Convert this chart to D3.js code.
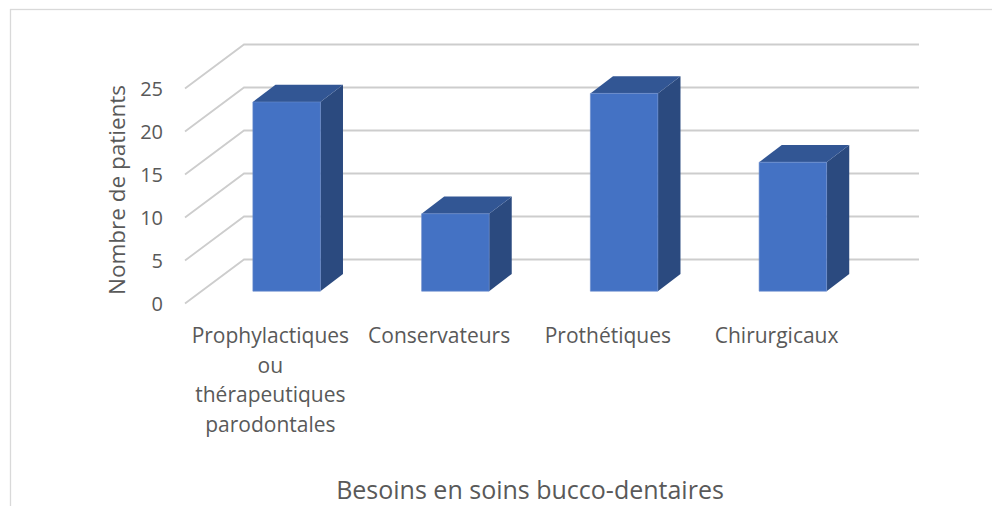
<!DOCTYPE html>
<html>
<head>
<meta charset="utf-8">
<script src="https://cdn.jsdelivr.net/npm/d3@7"></script>
<style>
  body { margin: 0; background: #fff; }
  text { font-family: 'Open Sans', sans-serif; fill: #595959; }
</style>
</head>
<body>
<div id="chart"></div>
<script>
// ----------------------------DATA-------------------------------//
const categories = [
  ['Prophylactiques', 'ou', 'thérapeutiques', 'parodontales'],
  ['Conservateurs'],
  ['Prothétiques'],
  ['Chirurgicaux'],
];
const values = [22, 9, 23, 15];
const yTicks = [0, 5, 10, 15, 20, 25];
const yTitle = 'Nombre de patients';
const xTitle = 'Besoins en soins bucco-dentaires';

const width = 992;
const height = 506;

// plot box (front plane) and depth vector of the side wall
const x0 = 186;
const plotW = 675;
const depth = { dx: 58, dy: -44 };
const zFront = 0.28;
const zBack = 0.67;

const svg = d3.select('#chart').append('svg')
  .attr('width', width)
  .attr('height', height);

// chart border (runs off right and bottom)
svg.append('rect')
  .attr('x', 10.5)
  .attr('y', 9.5)
  .attr('width', 1100)
  .attr('height', 700)
  .attr('fill', 'none')
  .attr('stroke', '#d9d9d9')
  .attr('stroke-width', 1.3);

// ----------------------------SCALES-----------------------------//
const yScale = d3.scaleLinear().domain([0, 25]).range([303.5, 88.5]);
const xBand = d3.scaleBand()
  .domain(d3.range(values.length))
  .range([x0, x0 + plotW])
  .paddingInner(0.6)
  .paddingOuter(0.3);
const xCat = d3.scaleBand()
  .domain(d3.range(values.length))
  .range([x0, x0 + plotW]);

const proj = (x, y, z) => [x + depth.dx * z, y + depth.dy * z];

// ----------------------------GRID-------------------------------//
const grid = svg.append('g')
  .attr('fill', 'none')
  .attr('stroke', '#cdcdcd')
  .attr('stroke-width', 1.8);

yTicks.forEach(t => {
  const yf = yScale(t);
  const back = proj(x0, yf, 1);
  const backEnd = proj(x0 + plotW, yf, 1);
  grid.append('polyline')
    .attr('points', [[x0 - 1, yf], back, backEnd].map(p => p.join(',')).join(' '));
});

// ----------------------------AXES-------------------------------//
svg.append('g')
  .selectAll('text')
  .data(yTicks)
  .enter()
  .append('text')
  .attr('x', 163)
  .attr('y', d => yScale(d))
  .attr('dy', '0.35em')
  .attr('text-anchor', 'end')
  .style('font-size', '20px')
  .text(d => d);

svg.append('text')
  .attr('transform', 'translate(117,190) rotate(-90)')
  .attr('text-anchor', 'middle')
  .attr('dy', '0.35em')
  .style('font-size', '22.5px')
  .text(yTitle);

const catLabels = svg.append('g')
  .selectAll('text')
  .data(categories)
  .enter()
  .append('text')
  .attr('text-anchor', 'middle')
  .style('font-size', '21px')
  .attr('x', (d, i) => xCat(i) + xCat.bandwidth() / 2)
  .attr('y', 336);

catLabels.selectAll('tspan')
  .data(d => d)
  .enter()
  .append('tspan')
  .attr('x', function () { return d3.select(this.parentNode).attr('x'); })
  .attr('dy', (d, i) => (i === 0 ? '0.35em' : '1.4em'))
  .text(d => d);

// baseline kept just inside the bottom edge
svg.append('text')
  .attr('x', 530)
  .attr('y', 490)
  .attr('dy', '0.35em')
  .attr('text-anchor', 'middle')
  .style('font-size', '25px')
  .text(xTitle);

// ----------------------------BARS-------------------------------//
const bars = svg.selectAll('.bar')
  .data(values)
  .enter()
  .append('g')
  .attr('class', 'bar');

const pts = arr => arr.map(p => p.join(',')).join(' ');

bars.each(function (v, i) {
  const g = d3.select(this);
  const xl = xBand(i);
  const xr = xl + xBand.bandwidth();
  const yb = yScale(0);
  const yt = yScale(v);

  // side face
  g.append('polygon')
    .attr('points', pts([proj(xr, yt, zFront), proj(xr, yt, zBack), proj(xr, yb, zBack), proj(xr, yb, zFront)]))
    .attr('fill', '#2b4a7f');
  // top face
  g.append('polygon')
    .attr('points', pts([proj(xl, yt, zFront), proj(xl, yt, zBack), proj(xr, yt, zBack), proj(xr, yt, zFront)]))
    .attr('fill', '#325694');
  // front face
  g.append('polygon')
    .attr('points', pts([proj(xl, yt, zFront), proj(xr, yt, zFront), proj(xr, yb, zFront), proj(xl, yb, zFront)]))
    .attr('fill', '#4472c4')
    .attr('stroke', '#6a8bcc')
    .attr('stroke-width', 0.6);
});
</script>
</body>
</html>
